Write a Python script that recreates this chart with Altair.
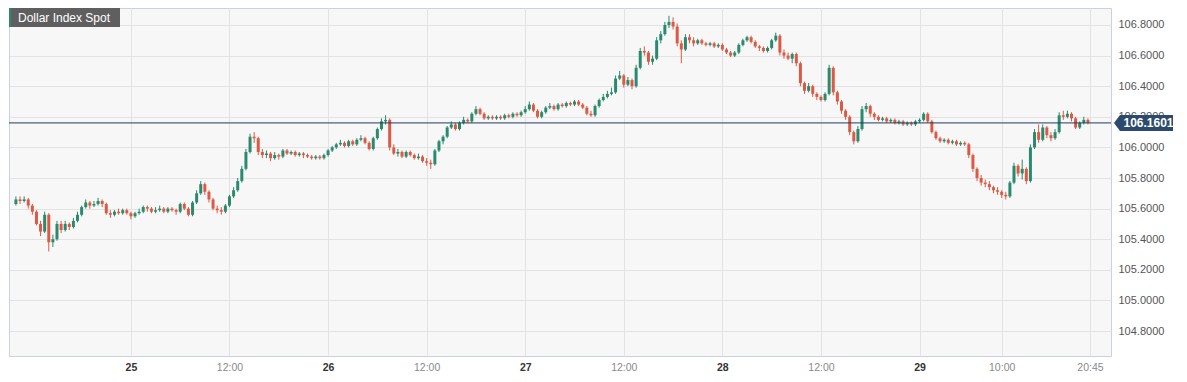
import altair as alt
import pandas as pd

# ---------------- data (30-minute candles) ----------------
title_text = "Dollar Index Spot"
start_time = "2024-11-24 10:00"
first_open = 105.63
last_price = 106.1601

closes = [
    105.66,105.65,105.66,105.62,105.58,105.50,105.45,105.56,105.38,105.40,
    105.50,105.46,105.50,105.48,105.52,105.56,105.61,105.64,105.62,105.63,
    105.65,105.63,105.57,105.56,105.58,105.57,105.59,105.57,105.55,105.57,
    105.58,105.61,105.60,105.58,105.59,105.60,105.58,105.60,105.59,105.58,
    105.63,105.60,105.56,105.64,105.70,105.76,105.71,105.66,105.60,105.59,
    105.58,105.62,105.68,105.72,105.78,105.86,105.97,106.07,106.06,105.97,
    105.95,105.96,105.93,105.95,105.94,105.98,105.96,105.97,105.95,105.96,
    105.95,105.94,105.93,105.94,105.93,105.95,105.98,106.00,106.02,106.03,
    106.01,106.04,106.02,106.05,106.06,106.03,105.99,106.06,106.12,106.17,
    106.18,106.00,105.96,105.97,105.94,105.97,105.95,105.93,105.94,105.91,
    105.90,105.89,105.98,106.04,106.07,106.13,106.15,106.12,106.16,106.18,
    106.17,106.22,106.25,106.22,106.19,106.20,106.19,106.20,106.19,106.21,
    106.20,106.22,106.21,106.23,106.25,106.28,106.24,106.20,106.23,106.26,
    106.27,106.25,106.28,106.27,106.29,106.28,106.30,106.28,106.26,106.22,
    106.21,106.27,106.31,106.33,106.35,106.36,106.45,106.47,106.41,106.44,
    106.40,106.52,106.63,106.62,106.56,106.58,106.70,106.74,106.80,106.82,
    106.79,106.68,106.64,106.72,106.70,106.68,106.70,106.68,106.67,106.68,
    106.66,106.67,106.64,106.62,106.60,106.62,106.67,106.70,106.72,106.69,
    106.66,106.65,106.63,106.65,106.70,106.73,106.62,106.60,106.58,106.61,
    106.55,106.42,106.37,106.40,106.35,106.33,106.31,106.35,106.52,106.36,
    106.30,106.24,106.20,106.10,106.04,106.12,106.25,106.27,106.22,106.20,
    106.18,106.19,106.17,106.18,106.16,106.17,106.15,106.16,106.15,106.17,
    106.18,106.22,106.17,106.10,106.06,106.04,106.05,106.03,106.04,106.02,
    106.03,106.02,105.95,105.86,105.80,105.77,105.76,105.74,105.72,105.71,
    105.69,105.68,105.77,105.88,105.83,105.86,105.78,106.00,106.10,106.05,
    106.13,106.08,106.06,106.10,106.21,106.20,106.22,106.19,106.13,106.16,
    106.18,106.16,
]

highs = [
    105.68,105.68,105.68,105.67,105.63,105.59,105.52,105.58,105.57,105.43,
    105.52,105.52,105.52,105.51,105.54,105.58,105.62,105.66,105.65,105.65,
    105.67,105.66,105.64,105.59,105.59,105.60,105.60,105.60,105.58,105.58,
    105.60,105.62,105.62,105.61,105.61,105.62,105.61,105.61,105.61,105.60,
    105.64,105.64,105.61,105.65,105.72,105.78,105.77,105.72,105.67,105.62,
    105.61,105.63,105.69,105.74,105.80,105.88,105.99,106.09,106.10,106.07,
    105.99,105.98,105.97,105.97,105.96,105.99,105.99,105.98,105.98,105.97,
    105.97,105.96,105.95,105.95,105.95,105.96,105.99,106.01,106.03,106.05,
    106.04,106.05,106.05,106.06,106.08,106.07,106.04,106.07,106.13,106.19,
    106.21,106.19,106.02,105.99,105.98,105.98,105.98,105.96,105.96,105.95,
    105.93,105.92,105.99,106.05,106.08,106.14,106.17,106.16,106.17,106.20,
    106.19,106.23,106.27,106.26,106.23,106.21,106.21,106.21,106.21,106.22,
    106.22,106.23,106.23,106.24,106.27,106.30,106.29,106.25,106.24,106.27,
    106.29,106.28,106.29,106.29,106.30,106.30,106.31,106.31,106.29,106.27,
    106.24,106.28,106.32,106.35,106.37,106.39,106.47,106.50,106.48,106.46,
    106.45,106.54,106.65,106.66,106.63,106.60,106.72,106.76,106.82,106.86,
    106.85,106.81,106.70,106.74,106.74,106.72,106.71,106.71,106.69,106.69,
    106.69,106.68,106.68,106.65,106.63,106.63,106.68,106.71,106.73,106.73,
    106.70,106.67,106.66,106.66,106.71,106.75,106.74,106.64,106.62,106.62,
    106.62,106.56,106.43,106.42,106.41,106.36,106.34,106.36,106.54,106.53,
    106.37,106.31,106.25,106.21,106.11,106.14,106.27,106.29,106.28,106.23,
    106.21,106.20,106.20,106.19,106.19,106.18,106.18,106.17,106.17,106.18,
    106.19,106.23,106.23,106.18,106.11,106.07,106.06,106.06,106.05,106.05,
    106.04,106.04,106.03,105.96,105.87,105.82,105.79,105.78,105.75,105.74,
    105.72,105.71,105.78,105.90,105.89,105.92,105.87,106.02,106.12,106.15,
    106.15,106.14,106.10,106.12,106.23,106.24,106.24,106.23,106.20,106.17,
    106.20,106.19,
]

lows = [
    105.62,105.63,105.64,105.60,105.56,105.49,105.42,105.44,105.32,105.35,
    105.39,105.44,105.45,105.46,105.47,105.51,105.55,105.60,105.60,105.61,
    105.62,105.61,105.56,105.54,105.55,105.56,105.56,105.56,105.53,105.54,
    105.56,105.57,105.58,105.57,105.57,105.58,105.57,105.57,105.58,105.56,
    105.57,105.59,105.55,105.55,105.63,105.69,105.69,105.64,105.59,105.57,
    105.56,105.57,105.61,105.67,105.71,105.77,105.85,105.96,106.03,105.95,
    105.93,105.93,105.91,105.92,105.92,105.93,105.95,105.95,105.94,105.94,
    105.93,105.93,105.92,105.92,105.92,105.92,105.94,105.97,105.99,106.01,
    106.00,106.00,106.01,106.01,106.04,106.02,105.98,105.98,106.05,106.11,
    106.15,105.98,105.95,105.94,105.93,105.93,105.94,105.92,105.92,105.90,
    105.88,105.86,105.88,105.97,106.02,106.06,106.12,106.11,106.11,106.15,
    106.16,106.16,106.21,106.21,106.18,106.18,106.18,106.18,106.18,106.18,
    106.19,106.19,106.20,106.20,106.22,106.24,106.23,106.19,106.19,106.22,
    106.25,106.24,106.24,106.26,106.26,106.27,106.27,106.27,106.25,106.21,
    106.20,106.20,106.26,106.30,106.32,106.34,106.35,106.44,106.39,106.40,
    106.38,106.39,106.51,106.60,106.54,106.54,106.57,106.68,106.73,106.78,
    106.77,106.66,106.55,106.63,106.68,106.66,106.67,106.67,106.66,106.66,
    106.65,106.65,106.63,106.61,106.59,106.59,106.61,106.66,106.69,106.68,
    106.65,106.63,106.62,106.62,106.64,106.69,106.60,106.58,106.57,106.55,
    106.53,106.40,106.35,106.36,106.33,106.31,106.30,106.30,106.34,106.34,
    106.28,106.22,106.18,106.08,106.02,106.03,106.11,106.23,106.20,106.18,
    106.17,106.17,106.16,106.16,106.15,106.15,106.14,106.14,106.14,106.14,
    106.16,106.17,106.16,106.09,106.05,106.03,106.03,106.02,106.02,106.01,
    106.01,106.01,105.93,105.84,105.78,105.75,105.74,105.72,105.70,105.69,
    105.67,105.66,105.67,105.76,105.81,105.79,105.76,105.77,105.99,106.03,
    106.04,106.06,106.04,106.05,106.09,106.18,106.19,106.17,106.12,106.12,
    106.15,106.15,
]

y_ticks = [104.8, 105.0, 105.2, 105.4, 105.6, 105.8, 106.0, 106.2, 106.4, 106.6, 106.8]
x_tick_times = ["2024-11-25 00:00", "2024-11-25 12:00", "2024-11-26 00:00", "2024-11-26 12:00",
                "2024-11-27 00:00", "2024-11-27 12:00", "2024-11-28 00:00", "2024-11-28 12:00",
                "2024-11-29 00:00", "2024-11-29 10:00", "2024-11-29 20:45"]
x_domain_times = ["2024-11-24 09:46", "2024-11-29 22:42"]
y_domain = [104.637, 106.911]

# ---------------- build table ----------------
n = min(len(closes), len(highs), len(lows))
closes, highs, lows = closes[:n], highs[:n], lows[:n]
opens = [first_open] + closes[:-1]
times = pd.date_range(start_time, periods=n, freq="30min")
df = pd.DataFrame({
    "t": times.strftime("%Y-%m-%dT%H:%M:%S"),
    "open": opens, "close": closes, "high": highs, "low": lows,
})
df["dir"] = ["up" if c >= o else "down" for o, c in zip(df["open"], df["close"])]


def dt(s):
    ts = pd.Timestamp(s)
    return alt.DateTime(year=ts.year, month=ts.month, date=ts.day, hours=ts.hour, minutes=ts.minute)


GREEN = "#2a8a6e"
RED = "#dc5a44"
NAVY = "#1f3b62"
FONT = "Liberation Sans"
W, H = 1102, 348

xscale = alt.Scale(domain=[dt(s) for s in x_domain_times], nice=False)
yscale = alt.Scale(domain=y_domain, nice=False, zero=False)
color = alt.Color("dir:N", scale=alt.Scale(domain=["up", "down"], range=[GREEN, RED]), legend=None)

is_day = "hours(datum.value) == 0 && minutes(datum.value) == 0"
xaxis = alt.Axis(
    title=None, values=[dt(s) for s in x_tick_times], tickCount=len(x_tick_times) + 5,
    labelExpr=f"{is_day} ? timeFormat(datum.value, '%d') : timeFormat(datum.value, '%H:%M')",
    labelFontWeight={"condition": {"test": is_day, "value": "bold"}, "value": "normal"},
    labelColor={"condition": {"test": is_day, "value": "#333333"}, "value": "#8a8a8a"},
    labelFontSize=10.5, labelPadding=6, ticks=False, domain=False, grid=True,
    gridColor="#e3e3e3", labelFont=FONT, labelFlush=False, labelOverlap=False,
)
yaxis = alt.Axis(
    title=None, orient="right", values=y_ticks, tickCount=len(y_ticks) + 5, format=".4f",
    labelFontSize=11, labelColor="#555555", labelPadding=7, ticks=False, domain=False,
    grid=True, gridColor="#e3e3e3", labelFont=FONT, labelOverlap=False, labelFlush=False,
)

base = alt.Chart(df)

wicks = base.mark_rule(strokeWidth=1).encode(
    x=alt.X("t:T", scale=xscale, axis=xaxis),
    y=alt.Y("low:Q", scale=yscale, axis=yaxis),
    y2="high:Q",
    color=color,
)

bodies = base.mark_bar(size=3).encode(
    x="t:T",
    y="open:Q",
    y2="close:Q",
    color=color,
)

price_df = pd.DataFrame({"price": [last_price], "label": [f"{last_price:.4f}"]})
price_line = alt.Chart(price_df).mark_rule(color=NAVY, strokeWidth=1).encode(
    y=alt.Y("price:Q"),
)
arrow_path = "M-1,0 L-0.797,-0.271 L1,-0.271 L1,0.271 L-0.797,0.271 Z"
price_box = alt.Chart(price_df).mark_point(
    shape=arrow_path, filled=True, fill="#2c4a6e", opacity=1, size=3481, strokeWidth=0
).encode(y="price:Q", x=alt.value(W + 32.5))
price_text = alt.Chart(price_df).mark_text(
    color="white", fontWeight="bold", fontSize=12, font=FONT, align="center", baseline="middle"
).encode(y="price:Q", x=alt.value(W + 37.5), text="label:N")

title_df = pd.DataFrame({"label": [title_text]})
title_box = alt.Chart(title_df).mark_rect(color="#5f5f5f", opacity=1).encode(
    x=alt.value(0), x2=alt.value(111), y=alt.value(0), y2=alt.value(19))
title_stripe = alt.Chart(title_df).mark_rect(color=GREEN, opacity=1).encode(
    x=alt.value(0), x2=alt.value(2), y=alt.value(0), y2=alt.value(19))
title_label = alt.Chart(title_df).mark_text(
    color="white", fontSize=12, font=FONT, align="left", baseline="middle"
).encode(x=alt.value(9), y=alt.value(9.5), text="label:N")

chart = alt.layer(
    wicks, bodies, price_line, price_box, price_text, title_box, title_stripe, title_label
).properties(width=W, height=H, padding=0, background="white").configure_view(
    fill="#f7f7f7", stroke="#c9d0e6", strokeWidth=1
)

chart.save("out.html", embed_options={"renderer": "svg", "actions": False})
